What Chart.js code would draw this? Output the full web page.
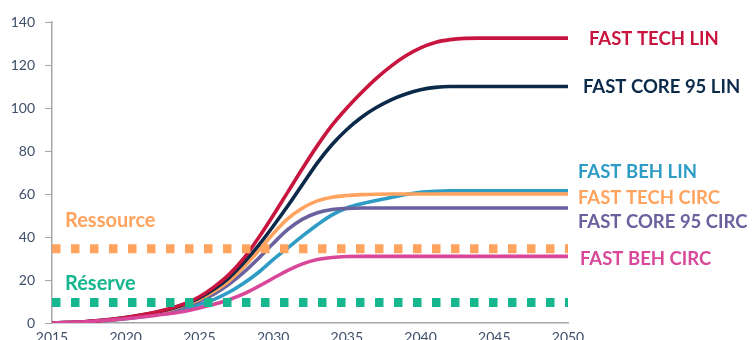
<!DOCTYPE html>
<html>
<head>
<meta charset="utf-8">
<script src="https://cdn.jsdelivr.net/npm/chart.js@4.4.1/dist/chart.umd.min.js"></script>
<style>
  html, body { margin: 0; padding: 0; background: #fff; overflow: hidden; }
  #wrap { width: 752px; height: 350px; position: relative; }
</style>
</head>
<body>
<div id="wrap"><canvas id="c"></canvas></div>
<script>
// Years on the horizontal axis
const years = [2015,2016,2017,2018,2019,2020,2021,2022,2023,2024,2025,2026,2027,2028,2029,2030,2031,2032,
               2033,2034,2035,2036,2037,2038,2039,2040,2041,2042,2043,2044,2045,2046,2047,2048,2049,2050];

// Scenario trajectories
const fastTechLin = [0,0.2,0.5,1,1.7,2.6,3.7,5,6.7,9,12.2,16.8,22.5,30,39.5,50,61,72,
                     82.5,92,100,107.2,113.8,119.5,124.3,128,130.5,131.8,132.4,132.5,132.5,132.5,132.5,132.5,132.5,132.5];
const fastCore95Lin = [0,0.2,0.5,1,1.6,2.5,3.6,4.9,6.5,8.7,11.7,15.8,21,28,36,45,54.5,64.5,
                       74.5,83,90,95.7,100.2,103.8,106.5,108.5,109.6,110,110,110,110,110,110,110,110,110];
const fastBehLin = [0,0.2,0.4,0.8,1.3,2,2.8,3.8,5,6.6,8.6,11,14.3,18.5,23.5,29.5,35,40.5,
                    45.7,50.3,53.5,55.5,57,58.4,59.8,60.8,61.3,61.5,61.5,61.5,61.5,61.5,61.5,61.5,61.5,61.5];
const fastTechCirc = [0,0.2,0.4,0.8,1.4,2.3,3.3,4.6,6.2,8.3,11,14.8,19.5,26,33.5,41.5,48.5,53.5,
                      56.8,58.5,59.3,59.7,59.9,60,60,60,60,60,60,60,60,60,60,60,60,60];
const fastCore95Circ = [0,0.2,0.4,0.8,1.4,2.2,3.1,4.3,5.8,7.7,10.2,13.5,18,23.5,30,37,43.5,48.3,
                        51.3,52.8,53.3,53.5,53.5,53.5,53.5,53.5,53.5,53.5,53.5,53.5,53.5,53.5,53.5,53.5,53.5,53.5];
const fastBehCirc = [0,0.2,0.5,0.9,1.4,2,2.7,3.5,4.4,5.5,7,8.7,10.8,13.5,17,20.8,24.5,27.5,
                     29.5,30.5,30.9,31,31,31,31,31,31,31,31,31,31,31,31,31,31,31];

// Horizontal reference levels
const ressourceLevel = 34.5;
const reserveLevel = 9.5;

// Y-axis ticks
const yTicks = [0,20,40,60,80,100,120,140];

const C = {
  red: '#C8153F', navy: '#0B2A4A', blue: '#2F9CC6', orange: '#FFA35F',
  purple: '#6A629E', pink: '#D9479A', green: '#16B68F', tick: '#3E4F6A', axis: '#A6A6A6'
};
const FONT = 'Lato, "Open Sans", sans-serif';

const pts = vals => years.map((y, i) => ({ x: y, y: vals[i] }));
const flat = v => [{ x: years[0], y: v }, { x: years[years.length - 1], y: v }];

function curve(label, vals, color) {
  return { label, data: pts(vals), borderColor: color, borderWidth: 3.6,
           pointRadius: 0, cubicInterpolationMode: 'monotone', fill: false };
}
function level(label, v, color) {
  return { label, data: flat(v), borderColor: color, borderWidth: 9,
           borderDash: [8.5, 10.5], borderCapStyle: 'butt', pointRadius: 0, fill: false };
}

// Text annotations: [text, colour, value on y axis, x offset]
const endLabels = [
  ['FAST TECH LIN', C.red, 132, 21],
  ['FAST CORE 95 LIN', C.navy, 109.8, 15],
  ['FAST BEH LIN', C.blue, 70, 10],
  ['FAST TECH CIRC', C.orange, 58, 10],
  ['FAST CORE 95 CIRC', C.purple, 47, 10],
  ['FAST BEH CIRC', C.pink, 29.6, 12]
];
const levelLabels = [
  ['Ressource', C.orange, 47.5, 13],
  ['Réserve', C.green, 18.4, 13]
];

const textPlugin = {
  id: 'seriesText',
  afterDatasetsDraw(chart) {
    const { ctx, chartArea, scales } = chart;
    ctx.save();
    ctx.textBaseline = 'middle';
    ctx.textAlign = 'left';
    ctx.font = 'bold 18.5px ' + FONT;
    endLabels.forEach(([t, col, v, dx]) => {
      ctx.fillStyle = col;
      ctx.fillText(t, chartArea.right + dx, scales.y.getPixelForValue(v));
    });
    ctx.font = 'bold 20px ' + FONT;
    levelLabels.forEach(([t, col, v, dx]) => {
      ctx.fillStyle = col;
      ctx.fillText(t, chartArea.left + dx, scales.y.getPixelForValue(v));
    });
    ctx.restore();
  }
};

new Chart(document.getElementById('c'), {
  type: 'line',
  data: {
    datasets: [
      level('Ressource', ressourceLevel, C.orange),
      level('Réserve', reserveLevel, C.green),
      curve('FAST BEH CIRC', fastBehCirc, C.pink),
      curve('FAST TECH LIN', fastTechLin, C.red),
      curve('FAST CORE 95 LIN', fastCore95Lin, C.navy),
      curve('FAST TECH CIRC', fastTechCirc, C.orange),
      curve('FAST CORE 95 CIRC', fastCore95Circ, C.purple),
      curve('FAST BEH LIN', fastBehLin, C.blue)
    ]
  },
  options: {
    responsive: true,
    maintainAspectRatio: false,
    animation: false,
    layout: { padding: { top: 22, right: 184, left: 0, bottom: 0 } },
    plugins: { legend: { display: false }, tooltip: { enabled: false } },
    scales: {
      x: {
        type: 'linear', min: 2015, max: 2050,
        afterFit(s) { s.height = 27; },
        ticks: { stepSize: 5, padding: 6, color: C.tick,
                 font: { family: FONT, size: 14 },
                 callback: v => String(v) },
        grid: { drawOnChartArea: false, drawTicks: false, color: C.axis },
        border: { color: C.axis, width: 1.5 }
      },
      y: {
        min: 0, max: 140,
        afterFit(s) { s.width = 52; },
        afterBuildTicks(s) { s.ticks = yTicks.map(v => ({ value: v })); },
        ticks: { padding: 10, color: C.tick,
                 font: { family: FONT, size: 14 } },
        grid: { drawOnChartArea: false, drawTicks: true, tickLength: 7, color: C.axis },
        border: { color: C.axis, width: 1.5 }
      }
    }
  },
  plugins: [textPlugin]
});
</script>
</body>
</html>
